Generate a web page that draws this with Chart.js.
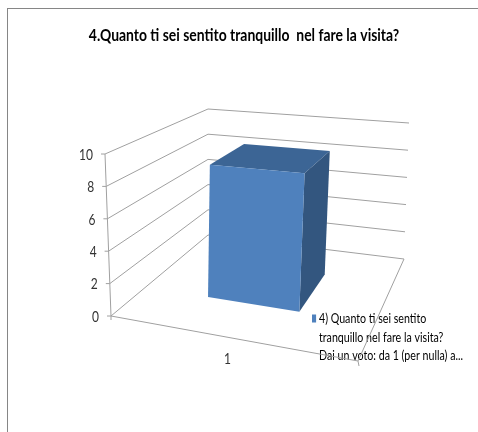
<!DOCTYPE html>
<html>
<head>
<meta charset="utf-8">
<title>Chart</title>
<script src="https://cdn.jsdelivr.net/npm/chart.js@4"></script>
<style>
  html, body { margin: 0; padding: 0; background: #fff; overflow: hidden; }
  #wrap { position: relative; width: 478px; height: 432px; }
  #frame { position: absolute; left: 7px; top: 8px; width: 480px; height: 440px; border: 1px solid #868686; box-sizing: border-box; }
  #ChartCanvas { position: absolute; left: 0; top: 0; }
</style>
</head>
<body>
<div id="wrap">
  <div id="frame"></div>
  <canvas id="ChartCanvas" width="478" height="432"></canvas>
</div>
<script>
var chartTitle = "4.Quanto ti sei sentito tranquillo  nel fare la visita?";
var categories = ["1"];
var seriesValues = [8.6];
var legendLines = ["4) Quanto ti sei sentito", "tranquillo nel fare la visita?", "Dai un voto: da 1 (per nulla) a..."];

var fontName = "Lato, sans-serif";
var lineColor = "#a0a0a0";
var textColor = "#333333";
var frontColor = "#4f81bd";
var topColor = "#3c6595";
var sideColor = "#33567f";
var textSqueeze = 0.8; // the original text is narrower than any installed font

// corners of the 3d box on screen: front left, front right, back right, back left
var floorCorners = [[111, 316], [358, 361], [404, 259], [208, 235]];
var ceilingCorners = [[105, 154], [364, 176], [409, 123], [208, 109]];

// maps the unit square onto a screen quad, so depth shrinks like in a perspective view
function quadMapper(q) {
    var dx1 = q[1][0] - q[2][0], dx2 = q[3][0] - q[2][0], sx = q[0][0] - q[1][0] + q[2][0] - q[3][0];
    var dy1 = q[1][1] - q[2][1], dy2 = q[3][1] - q[2][1], sy = q[0][1] - q[1][1] + q[2][1] - q[3][1];
    var den = dx1 * dy2 - dx2 * dy1;
    var g = (sx * dy2 - dx2 * sy) / den;
    var h = (dx1 * sy - sx * dy1) / den;
    var a = q[1][0] - q[0][0] + g * q[1][0], b = q[3][0] - q[0][0] + h * q[3][0];
    var d = q[1][1] - q[0][1] + g * q[1][1], e = q[3][1] - q[0][1] + h * q[3][1];
    return function (u, w) {
        var k = g * u + h * w + 1;
        return [(a * u + b * w + q[0][0]) / k, (d * u + e * w + q[0][1]) / k];
    };
}
var floorAt = quadMapper(floorCorners);
var ceilingAt = quadMapper(ceilingCorners);

// u = across, w = depth, v = height, all 0..1
function project(u, w, v) {
    var p = floorAt(u, w), t = ceilingAt(u, w);
    return [p[0] + (t[0] - p[0]) * v, p[1] + (t[1] - p[1]) * v];
}

function strokeLine(ctx, from, to) {
    ctx.beginPath();
    ctx.moveTo(from[0], from[1]);
    ctx.lineTo(to[0], to[1]);
    ctx.stroke();
}

function fillFace(ctx, points, color) {
    ctx.fillStyle = color;
    ctx.beginPath();
    points.forEach(function (p, i) {
        if (i === 0) ctx.moveTo(p[0], p[1]); else ctx.lineTo(p[0], p[1]);
    });
    ctx.closePath();
    ctx.fill();
}

function squeezedText(ctx, text, x, y) {
    ctx.save();
    ctx.translate(x, y);
    ctx.scale(textSqueeze, 1);
    ctx.fillText(text, 0, 0);
    ctx.restore();
}

// wraps a layout box's draw so it comes out narrower around originX
function squeezeBox(box, ctx, factor, originX) {
    var draw = box.draw;
    box.draw = function (area) {
        ctx.save();
        ctx.translate(originX, 0);
        ctx.scale(factor, 1);
        ctx.translate(-originX, 0);
        draw.call(box, area);
        ctx.restore();
    };
}

var box3d = {
    id: "box3d",
    afterLayout: function (chart) {
        // legend sits on top of the floor, like the original
        var legend = chart.legend;
        legend.left = 312; legend.right = 520;
        legend.top = 312; legend.bottom = 432;
        if (!chart.$squeezed) {
            chart.$squeezed = true;
            squeezeBox(chart.titleBlock, chart.ctx, 0.82, 244);
            squeezeBox(legend, chart.ctx, 0.82, 312);
        }
    },
    beforeDatasetsDraw: function (chart) {
        var ctx = chart.ctx, area = chart.chartArea;
        var yScale = chart.scales.y, xScale = chart.scales.x;
        var heightOf = function (value) {
            return (area.bottom - yScale.getPixelForValue(value)) / area.height;
        };

        ctx.save();
        ctx.strokeStyle = lineColor;
        ctx.lineWidth = 1;

        // walls and value axis
        ctx.font = "15px " + fontName;
        ctx.fillStyle = textColor;
        ctx.textAlign = "right";
        ctx.textBaseline = "middle";
        yScale.ticks.forEach(function (tick) {
            var v = heightOf(tick.value);
            var front = project(0, 0, v), corner = project(0, 1, v), back = project(1, 1, v);
            strokeLine(ctx, front, corner);
            strokeLine(ctx, corner, back);
            strokeLine(ctx, [front[0] - 4, front[1]], front);
            squeezedText(ctx, tick.label, front[0] - 12, front[1] + 1);
        });
        strokeLine(ctx, project(0, 0, 0), project(0, 0, 1));

        // floor edges and category axis
        var a = project(0, 0, 0), b = project(1, 0, 0);
        strokeLine(ctx, a, b);
        strokeLine(ctx, b, project(1, 1, 0));
        strokeLine(ctx, a, [a[0], a[1] + 4]);
        strokeLine(ctx, b, [b[0] + 1, b[1] + 5]);

        ctx.textAlign = "center";
        ctx.fillStyle = textColor;
        xScale.getLabels().forEach(function (label, i) {
            var u = (xScale.getPixelForTick(i) - area.left) / area.width;
            var p = project(u, 0, 0);
            squeezedText(ctx, label, p[0] + 2, p[1] + 22);
        });

        // the bar, from where the library placed it
        chart.getDatasetMeta(0).data.forEach(function (bar) {
            var u0 = (bar.x - bar.width / 2 - area.left) / area.width;
            var u1 = (bar.x + bar.width / 2 - area.left) / area.width;
            var v = (area.bottom - bar.y) / area.height;
            // square footprint, centred in depth
            var w0 = u0, w1 = u1;
            fillFace(ctx, [project(u0, w0, v), project(u1, w0, v), project(u1, w1, v), project(u0, w1, v)], topColor);
            fillFace(ctx, [project(u1, w0, 0), project(u1, w1, 0), project(u1, w1, v), project(u1, w0, v)], sideColor);
            fillFace(ctx, [project(u0, w0, 0), project(u1, w0, 0), project(u1, w0, v), project(u0, w0, v)], frontColor);
        });
        ctx.restore();
        return false;
    }
};

var chart = new Chart(document.getElementById("ChartCanvas").getContext("2d"), {
    type: "bar",
    plugins: [box3d],
    data: {
        labels: categories,
        datasets: [{
            label: legendLines.join(" "),
            data: seriesValues,
            backgroundColor: frontColor,
            barPercentage: 0.4,
            categoryPercentage: 1
        }]
    },
    options: {
        responsive: false,
        animation: false,
        layout: { padding: { left: 10, right: 0, top: 0, bottom: 0 } },
        plugins: {
            tooltip: { enabled: false },
            title: {
                display: true,
                text: chartTitle,
                color: "#000",
                font: { family: fontName, size: 17, weight: "bold" },
                padding: { top: 25, bottom: 10 }
            },
            legend: {
                display: true,
                position: "right",
                align: "start",
                labels: {
                    color: textColor,
                    font: { family: fontName, size: 13, lineHeight: 1.45 },
                    padding: 0,
                    boxWidth: 2,
                    boxHeight: 8,
                    usePointStyle: true,
                    generateLabels: function () {
                        return [{ text: legendLines, fillStyle: frontColor, strokeStyle: frontColor, lineWidth: 0, pointStyle: "rect", datasetIndex: 0 }];
                    }
                }
            }
        },
        scales: {
            x: { ticks: { display: false }, grid: { display: false }, border: { display: false } },
            y: {
                min: 0,
                max: 10,
                ticks: { display: false, stepSize: 2 },
                grid: { display: false },
                border: { display: false }
            }
        }
    }
});
</script>
</body>
</html>
